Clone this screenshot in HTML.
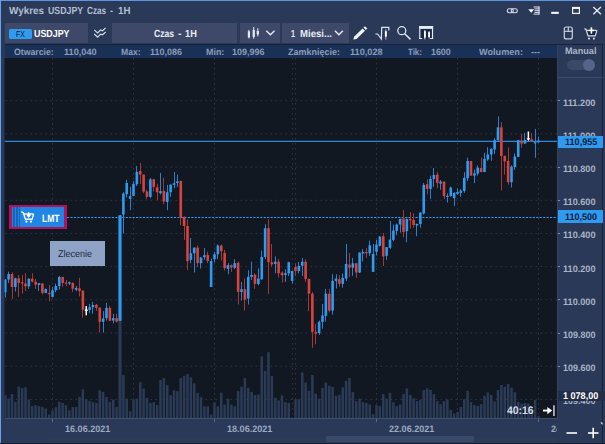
<!DOCTYPE html>
<html><head><meta charset="utf-8">
<style>
*{margin:0;padding:0;box-sizing:border-box}
html,body{width:605px;height:444px;overflow:hidden;background:#2a3957}
body{position:relative;font-family:"Liberation Sans",sans-serif;text-rendering:geometricPrecision}
.abs{position:absolute}
.t{position:absolute;white-space:nowrap;line-height:1}
.box{position:absolute;background:#3e4969}
.info{font-size:9px;font-weight:bold;color:#8c9dba;top:47.5px;letter-spacing:0.1px}
.ax{font-size:9.5px;font-weight:bold;color:#a9b4c6;left:562.3px;letter-spacing:0}
.dt{font-size:9.3px;font-weight:bold;color:#9ba9c1;top:424px}
</style></head><body>
<!-- window frame -->
<div class="abs" style="left:0;top:0;width:605px;height:1.4px;background:#5e95e0"></div>
<div class="abs" style="left:0;top:0;width:1.25px;height:444px;background:#6aa2ec"></div>
<!-- title -->
<!-- toolbar boxes -->
<div class="box" style="left:5px;top:23.2px;width:83px;height:19.6px"></div>
<div class="box" style="left:112px;top:23.2px;width:125px;height:19.6px"></div>
<div class="box" style="left:239.6px;top:23.2px;width:40.6px;height:19.6px"></div>
<div class="box" style="left:282.4px;top:23.2px;width:66.6px;height:19.6px"></div>
<div class="abs" style="left:8.5px;top:28.5px;width:23px;height:10.5px;background:#2f9bf0;border-radius:1.5px"></div>
<!-- info row -->
<div class="abs" style="left:4.5px;top:44.5px;width:552.5px;height:13.5px;background:#1a3157"></div>
<svg width="605" height="444" viewBox="0 0 605 444" style="position:absolute;left:0;top:0">
<defs><clipPath id="cc"><rect x="4.5" y="58" width="552.5" height="360.3"/></clipPath></defs>
<rect x="4.5" y="58" width="552.5" height="360.3" fill="#121822"/>
<g clip-path="url(#cc)">
<line x1="4.5" x2="557" y1="100.70" y2="100.70" stroke="#2f3743" stroke-width="1" stroke-dasharray="1.6 3.4" stroke-dashoffset="-1"/>
<line x1="4.5" x2="557" y1="133.89" y2="133.89" stroke="#2f3743" stroke-width="1" stroke-dasharray="1.6 3.4" stroke-dashoffset="-1"/>
<line x1="4.5" x2="557" y1="167.08" y2="167.08" stroke="#2f3743" stroke-width="1" stroke-dasharray="1.6 3.4" stroke-dashoffset="-1"/>
<line x1="4.5" x2="557" y1="200.27" y2="200.27" stroke="#2f3743" stroke-width="1" stroke-dasharray="1.6 3.4" stroke-dashoffset="-1"/>
<line x1="4.5" x2="557" y1="233.46" y2="233.46" stroke="#2f3743" stroke-width="1" stroke-dasharray="1.6 3.4" stroke-dashoffset="-1"/>
<line x1="4.5" x2="557" y1="266.65" y2="266.65" stroke="#2f3743" stroke-width="1" stroke-dasharray="1.6 3.4" stroke-dashoffset="-1"/>
<line x1="4.5" x2="557" y1="299.84" y2="299.84" stroke="#2f3743" stroke-width="1" stroke-dasharray="1.6 3.4" stroke-dashoffset="-1"/>
<line x1="4.5" x2="557" y1="333.03" y2="333.03" stroke="#2f3743" stroke-width="1" stroke-dasharray="1.6 3.4" stroke-dashoffset="-1"/>
<line x1="4.5" x2="557" y1="366.22" y2="366.22" stroke="#2f3743" stroke-width="1" stroke-dasharray="1.6 3.4" stroke-dashoffset="-1"/>
<line x1="4.5" x2="557" y1="399.41" y2="399.41" stroke="#2f3743" stroke-width="1" stroke-dasharray="1.6 3.4" stroke-dashoffset="-1"/>
<line x1="52.5" x2="52.5" y1="58" y2="418.3" stroke="#2f3743" stroke-width="1" stroke-dasharray="1.6 3.4"/>
<line x1="133.5" x2="133.5" y1="58" y2="418.3" stroke="#2f3743" stroke-width="1" stroke-dasharray="1.6 3.4"/>
<line x1="214.5" x2="214.5" y1="58" y2="418.3" stroke="#2f3743" stroke-width="1" stroke-dasharray="1.6 3.4"/>
<line x1="292.6" x2="292.6" y1="58" y2="418.3" stroke="#2f3743" stroke-width="1" stroke-dasharray="1.6 3.4"/>
<line x1="295.6" x2="295.6" y1="58" y2="418.3" stroke="#2f3743" stroke-width="1" stroke-dasharray="1.6 3.4"/>
<line x1="376.5" x2="376.5" y1="58" y2="418.3" stroke="#2f3743" stroke-width="1" stroke-dasharray="1.6 3.4"/>
<line x1="457.5" x2="457.5" y1="58" y2="418.3" stroke="#2f3743" stroke-width="1" stroke-dasharray="1.6 3.4"/>
<line x1="538.5" x2="538.5" y1="58" y2="418.3" stroke="#2f3743" stroke-width="1" stroke-dasharray="1.6 3.4"/>
<rect x="4.00" y="395.18" width="2.5" height="23.12" fill="#2b3b57"/>
<rect x="7.38" y="398.45" width="2.5" height="19.85" fill="#2b3b57"/>
<rect x="10.75" y="393.99" width="2.5" height="24.31" fill="#2b3b57"/>
<rect x="14.12" y="401.88" width="2.5" height="16.43" fill="#2b3b57"/>
<rect x="17.50" y="386.55" width="2.5" height="31.75" fill="#2b3b57"/>
<rect x="20.88" y="388.04" width="2.5" height="30.26" fill="#2b3b57"/>
<rect x="24.25" y="387.29" width="2.5" height="31.01" fill="#2b3b57"/>
<rect x="27.62" y="399.35" width="2.5" height="18.95" fill="#2b3b57"/>
<rect x="31.00" y="406.04" width="2.5" height="12.26" fill="#2b3b57"/>
<rect x="34.38" y="405.15" width="2.5" height="13.15" fill="#2b3b57"/>
<rect x="37.75" y="406.04" width="2.5" height="12.26" fill="#2b3b57"/>
<rect x="41.12" y="407.08" width="2.5" height="11.22" fill="#2b3b57"/>
<rect x="44.50" y="408.57" width="2.5" height="9.73" fill="#2b3b57"/>
<rect x="47.88" y="414.52" width="2.5" height="3.78" fill="#2b3b57"/>
<rect x="51.25" y="410.36" width="2.5" height="7.94" fill="#2b3b57"/>
<rect x="54.62" y="407.08" width="2.5" height="11.22" fill="#2b3b57"/>
<rect x="58.00" y="401.88" width="2.5" height="16.43" fill="#2b3b57"/>
<rect x="61.38" y="402.92" width="2.5" height="15.38" fill="#2b3b57"/>
<rect x="64.75" y="405.30" width="2.5" height="13.00" fill="#2b3b57"/>
<rect x="68.12" y="410.36" width="2.5" height="7.94" fill="#2b3b57"/>
<rect x="71.50" y="407.08" width="2.5" height="11.22" fill="#2b3b57"/>
<rect x="74.88" y="407.08" width="2.5" height="11.22" fill="#2b3b57"/>
<rect x="78.25" y="396.96" width="2.5" height="21.34" fill="#2b3b57"/>
<rect x="81.62" y="389.23" width="2.5" height="29.07" fill="#2b3b57"/>
<rect x="85.00" y="399.35" width="2.5" height="18.95" fill="#2b3b57"/>
<rect x="88.38" y="401.13" width="2.5" height="17.17" fill="#2b3b57"/>
<rect x="91.75" y="402.17" width="2.5" height="16.13" fill="#2b3b57"/>
<rect x="95.12" y="402.92" width="2.5" height="15.38" fill="#2b3b57"/>
<rect x="98.50" y="390.27" width="2.5" height="28.03" fill="#2b3b57"/>
<rect x="101.88" y="391.90" width="2.5" height="26.40" fill="#2b3b57"/>
<rect x="105.25" y="396.96" width="2.5" height="21.34" fill="#2b3b57"/>
<rect x="108.62" y="401.88" width="2.5" height="16.43" fill="#2b3b57"/>
<rect x="112.00" y="399.64" width="2.5" height="18.66" fill="#2b3b57"/>
<rect x="115.38" y="407.08" width="2.5" height="11.22" fill="#2b3b57"/>
<rect x="118.50" y="321.07" width="3.0" height="97.23" fill="#2b3b57"/>
<rect x="122.12" y="375.09" width="2.5" height="43.21" fill="#2b3b57"/>
<rect x="125.50" y="398.60" width="2.5" height="19.70" fill="#2b3b57"/>
<rect x="128.88" y="411.25" width="2.5" height="7.05" fill="#2b3b57"/>
<rect x="132.25" y="399.35" width="2.5" height="18.95" fill="#2b3b57"/>
<rect x="135.62" y="398.45" width="2.5" height="19.85" fill="#2b3b57"/>
<rect x="139.00" y="382.23" width="2.5" height="36.07" fill="#2b3b57"/>
<rect x="142.38" y="388.48" width="2.5" height="29.82" fill="#2b3b57"/>
<rect x="145.75" y="397.86" width="2.5" height="20.44" fill="#2b3b57"/>
<rect x="149.12" y="402.92" width="2.5" height="15.38" fill="#2b3b57"/>
<rect x="152.50" y="402.17" width="2.5" height="16.13" fill="#2b3b57"/>
<rect x="155.88" y="405.15" width="2.5" height="13.15" fill="#2b3b57"/>
<rect x="159.25" y="380.00" width="2.5" height="38.30" fill="#2b3b57"/>
<rect x="162.62" y="378.07" width="2.5" height="40.23" fill="#2b3b57"/>
<rect x="166.00" y="385.21" width="2.5" height="33.09" fill="#2b3b57"/>
<rect x="169.38" y="395.18" width="2.5" height="23.12" fill="#2b3b57"/>
<rect x="172.75" y="390.27" width="2.5" height="28.03" fill="#2b3b57"/>
<rect x="176.12" y="391.16" width="2.5" height="27.14" fill="#2b3b57"/>
<rect x="179.50" y="378.07" width="2.5" height="40.23" fill="#2b3b57"/>
<rect x="182.88" y="375.83" width="2.5" height="42.47" fill="#2b3b57"/>
<rect x="186.25" y="374.05" width="2.5" height="44.25" fill="#2b3b57"/>
<rect x="189.62" y="377.32" width="2.5" height="40.98" fill="#2b3b57"/>
<rect x="193.00" y="383.27" width="2.5" height="35.03" fill="#2b3b57"/>
<rect x="196.38" y="392.95" width="2.5" height="25.35" fill="#2b3b57"/>
<rect x="199.75" y="397.11" width="2.5" height="21.19" fill="#2b3b57"/>
<rect x="203.12" y="406.34" width="2.5" height="11.96" fill="#2b3b57"/>
<rect x="206.50" y="406.34" width="2.5" height="11.96" fill="#2b3b57"/>
<rect x="209.88" y="414.52" width="2.5" height="3.78" fill="#2b3b57"/>
<rect x="213.25" y="402.32" width="2.5" height="15.98" fill="#2b3b57"/>
<rect x="216.62" y="406.34" width="2.5" height="11.96" fill="#2b3b57"/>
<rect x="220.00" y="392.65" width="2.5" height="25.65" fill="#2b3b57"/>
<rect x="223.38" y="404.55" width="2.5" height="13.75" fill="#2b3b57"/>
<rect x="226.75" y="398.60" width="2.5" height="19.70" fill="#2b3b57"/>
<rect x="230.12" y="404.55" width="2.5" height="13.75" fill="#2b3b57"/>
<rect x="233.50" y="406.34" width="2.5" height="11.96" fill="#2b3b57"/>
<rect x="236.88" y="391.16" width="2.5" height="27.14" fill="#2b3b57"/>
<rect x="240.25" y="386.70" width="2.5" height="31.60" fill="#2b3b57"/>
<rect x="243.62" y="378.07" width="2.5" height="40.23" fill="#2b3b57"/>
<rect x="247.00" y="387.74" width="2.5" height="30.56" fill="#2b3b57"/>
<rect x="250.38" y="392.00" width="2.5" height="26.30" fill="#2b3b57"/>
<rect x="253.75" y="395.00" width="2.5" height="23.30" fill="#2b3b57"/>
<rect x="257.12" y="394.50" width="2.5" height="23.80" fill="#2b3b57"/>
<rect x="260.50" y="356.33" width="2.5" height="61.97" fill="#2b3b57"/>
<rect x="263.88" y="370.83" width="2.5" height="47.47" fill="#2b3b57"/>
<rect x="267.25" y="352.17" width="2.5" height="66.13" fill="#2b3b57"/>
<rect x="270.62" y="375.83" width="2.5" height="42.47" fill="#2b3b57"/>
<rect x="274.00" y="397.83" width="2.5" height="20.47" fill="#2b3b57"/>
<rect x="277.38" y="400.50" width="2.5" height="17.80" fill="#2b3b57"/>
<rect x="280.75" y="395.33" width="2.5" height="22.97" fill="#2b3b57"/>
<rect x="284.12" y="402.17" width="2.5" height="16.13" fill="#2b3b57"/>
<rect x="287.50" y="402.83" width="2.5" height="15.47" fill="#2b3b57"/>
<rect x="290.88" y="417.67" width="2.5" height="0.63" fill="#2b3b57"/>
<rect x="294.25" y="399.17" width="2.5" height="19.13" fill="#2b3b57"/>
<rect x="297.62" y="399.17" width="2.5" height="19.13" fill="#2b3b57"/>
<rect x="301.00" y="372.50" width="2.5" height="45.80" fill="#2b3b57"/>
<rect x="304.38" y="382.50" width="2.5" height="35.80" fill="#2b3b57"/>
<rect x="307.75" y="390.83" width="2.5" height="27.47" fill="#2b3b57"/>
<rect x="311.12" y="375.00" width="2.5" height="43.30" fill="#2b3b57"/>
<rect x="314.50" y="393.67" width="2.5" height="24.63" fill="#2b3b57"/>
<rect x="317.88" y="398.67" width="2.5" height="19.63" fill="#2b3b57"/>
<rect x="321.25" y="387.83" width="2.5" height="30.47" fill="#2b3b57"/>
<rect x="324.62" y="382.50" width="2.5" height="35.80" fill="#2b3b57"/>
<rect x="328.00" y="385.83" width="2.5" height="32.47" fill="#2b3b57"/>
<rect x="331.38" y="387.00" width="2.5" height="31.30" fill="#2b3b57"/>
<rect x="334.75" y="395.83" width="2.5" height="22.47" fill="#2b3b57"/>
<rect x="338.12" y="395.00" width="2.5" height="23.30" fill="#2b3b57"/>
<rect x="341.50" y="387.50" width="2.5" height="30.80" fill="#2b3b57"/>
<rect x="344.88" y="380.83" width="2.5" height="37.47" fill="#2b3b57"/>
<rect x="348.25" y="378.00" width="2.5" height="40.30" fill="#2b3b57"/>
<rect x="351.62" y="392.00" width="2.5" height="26.30" fill="#2b3b57"/>
<rect x="355.00" y="401.17" width="2.5" height="17.13" fill="#2b3b57"/>
<rect x="358.38" y="398.67" width="2.5" height="19.63" fill="#2b3b57"/>
<rect x="361.75" y="402.17" width="2.5" height="16.13" fill="#2b3b57"/>
<rect x="365.12" y="403.00" width="2.5" height="15.30" fill="#2b3b57"/>
<rect x="368.50" y="404.50" width="2.5" height="13.80" fill="#2b3b57"/>
<rect x="371.88" y="414.17" width="2.5" height="4.13" fill="#2b3b57"/>
<rect x="375.25" y="405.00" width="2.5" height="13.30" fill="#2b3b57"/>
<rect x="378.62" y="406.17" width="2.5" height="12.13" fill="#2b3b57"/>
<rect x="382.00" y="394.17" width="2.5" height="24.13" fill="#2b3b57"/>
<rect x="385.38" y="398.67" width="2.5" height="19.63" fill="#2b3b57"/>
<rect x="388.75" y="392.83" width="2.5" height="25.47" fill="#2b3b57"/>
<rect x="392.12" y="402.17" width="2.5" height="16.13" fill="#2b3b57"/>
<rect x="395.50" y="406.17" width="2.5" height="12.13" fill="#2b3b57"/>
<rect x="398.88" y="404.50" width="2.5" height="13.80" fill="#2b3b57"/>
<rect x="402.25" y="394.17" width="2.5" height="24.13" fill="#2b3b57"/>
<rect x="405.62" y="388.33" width="2.5" height="29.97" fill="#2b3b57"/>
<rect x="409.00" y="395.00" width="2.5" height="23.30" fill="#2b3b57"/>
<rect x="412.38" y="398.33" width="2.5" height="19.97" fill="#2b3b57"/>
<rect x="415.75" y="401.17" width="2.5" height="17.13" fill="#2b3b57"/>
<rect x="419.12" y="400.00" width="2.5" height="18.30" fill="#2b3b57"/>
<rect x="422.50" y="390.00" width="2.5" height="28.30" fill="#2b3b57"/>
<rect x="425.88" y="388.33" width="2.5" height="29.97" fill="#2b3b57"/>
<rect x="429.25" y="390.00" width="2.5" height="28.30" fill="#2b3b57"/>
<rect x="432.62" y="394.17" width="2.5" height="24.13" fill="#2b3b57"/>
<rect x="436.00" y="401.17" width="2.5" height="17.13" fill="#2b3b57"/>
<rect x="439.38" y="404.17" width="2.5" height="14.13" fill="#2b3b57"/>
<rect x="442.75" y="401.17" width="2.5" height="17.13" fill="#2b3b57"/>
<rect x="446.12" y="399.50" width="2.5" height="18.80" fill="#2b3b57"/>
<rect x="449.50" y="410.00" width="2.5" height="8.30" fill="#2b3b57"/>
<rect x="452.88" y="413.67" width="2.5" height="4.63" fill="#2b3b57"/>
<rect x="456.25" y="412.00" width="2.5" height="6.30" fill="#2b3b57"/>
<rect x="459.62" y="407.00" width="2.5" height="11.30" fill="#2b3b57"/>
<rect x="463.00" y="399.17" width="2.5" height="19.13" fill="#2b3b57"/>
<rect x="466.38" y="390.83" width="2.5" height="27.47" fill="#2b3b57"/>
<rect x="469.75" y="402.00" width="2.5" height="16.30" fill="#2b3b57"/>
<rect x="473.12" y="405.00" width="2.5" height="13.30" fill="#2b3b57"/>
<rect x="476.50" y="405.83" width="2.5" height="12.47" fill="#2b3b57"/>
<rect x="479.88" y="404.17" width="2.5" height="14.13" fill="#2b3b57"/>
<rect x="483.25" y="395.83" width="2.5" height="22.47" fill="#2b3b57"/>
<rect x="486.62" y="392.50" width="2.5" height="25.80" fill="#2b3b57"/>
<rect x="490.00" y="394.93" width="2.5" height="23.37" fill="#2b3b57"/>
<rect x="493.38" y="401.58" width="2.5" height="16.72" fill="#2b3b57"/>
<rect x="496.75" y="389.88" width="2.5" height="28.42" fill="#2b3b57"/>
<rect x="500.12" y="384.97" width="2.5" height="33.33" fill="#2b3b57"/>
<rect x="503.50" y="386.69" width="2.5" height="31.61" fill="#2b3b57"/>
<rect x="506.88" y="384.04" width="2.5" height="34.26" fill="#2b3b57"/>
<rect x="510.25" y="387.62" width="2.5" height="30.68" fill="#2b3b57"/>
<rect x="513.62" y="392.28" width="2.5" height="26.02" fill="#2b3b57"/>
<rect x="517.00" y="401.98" width="2.5" height="16.32" fill="#2b3b57"/>
<rect x="520.38" y="403.57" width="2.5" height="14.73" fill="#2b3b57"/>
<rect x="523.75" y="402.91" width="2.5" height="15.39" fill="#2b3b57"/>
<rect x="527.12" y="403.57" width="2.5" height="14.73" fill="#2b3b57"/>
<rect x="530.50" y="407.96" width="2.5" height="10.34" fill="#2b3b57"/>
<rect x="533.88" y="399.98" width="2.5" height="18.32" fill="#2b3b57"/>
<rect x="537.25" y="416.20" width="2.5" height="2.10" fill="#2b3b57"/>
<line x1="4.5" x2="557" y1="141.4" y2="141.4" stroke="#2f86d8" stroke-width="1.3"/>
<line x1="67" x2="557" y1="217.4" y2="217.4" stroke="#2f9bf0" stroke-width="1.05" stroke-dasharray="2.2 1.25"/>
<line x1="5.50" x2="5.50" y1="278.95" y2="297.56" stroke="#2980cc" stroke-width="1"/>
<rect x="3.95" y="279.62" width="2.6" height="12.62" fill="#2f9bf0"/>
<line x1="8.50" x2="8.50" y1="271.64" y2="282.94" stroke="#2980cc" stroke-width="1"/>
<rect x="7.33" y="274.04" width="2.6" height="5.58" fill="#2f9bf0"/>
<line x1="12.50" x2="12.50" y1="272.31" y2="298.89" stroke="#a63732" stroke-width="1"/>
<rect x="10.70" y="274.04" width="2.6" height="12.89" fill="#d8443c"/>
<line x1="15.50" x2="15.50" y1="277.62" y2="291.58" stroke="#2980cc" stroke-width="1"/>
<rect x="14.07" y="278.29" width="2.6" height="8.64" fill="#2f9bf0"/>
<line x1="18.50" x2="18.50" y1="274.97" y2="296.89" stroke="#a63732" stroke-width="1"/>
<rect x="17.45" y="278.29" width="2.6" height="4.65" fill="#d8443c"/>
<line x1="22.50" x2="22.50" y1="274.97" y2="293.57" stroke="#a63732" stroke-width="1"/>
<rect x="20.82" y="282.28" width="2.6" height="1.33" fill="#d8443c"/>
<line x1="25.50" x2="25.50" y1="273.24" y2="290.91" stroke="#a63732" stroke-width="1"/>
<rect x="24.20" y="283.60" width="2.6" height="2.66" fill="#d8443c"/>
<line x1="28.50" x2="28.50" y1="278.29" y2="288.92" stroke="#2980cc" stroke-width="1"/>
<rect x="27.57" y="278.69" width="2.6" height="7.57" fill="#2f9bf0"/>
<line x1="32.50" x2="32.50" y1="273.24" y2="282.28" stroke="#a63732" stroke-width="1"/>
<rect x="30.95" y="278.69" width="2.6" height="2.92" fill="#d8443c"/>
<line x1="35.50" x2="35.50" y1="278.95" y2="288.92" stroke="#a63732" stroke-width="1"/>
<rect x="34.33" y="281.61" width="2.6" height="3.06" fill="#d8443c"/>
<line x1="38.50" x2="38.50" y1="282.94" y2="290.91" stroke="#2980cc" stroke-width="1"/>
<rect x="37.70" y="283.21" width="2.6" height="1.73" fill="#2f9bf0"/>
<line x1="42.50" x2="42.50" y1="282.94" y2="294.50" stroke="#a63732" stroke-width="1"/>
<rect x="41.08" y="283.60" width="2.6" height="9.30" fill="#d8443c"/>
<line x1="45.50" x2="45.50" y1="288.65" y2="293.17" stroke="#2980cc" stroke-width="1"/>
<rect x="44.45" y="288.92" width="2.6" height="3.99" fill="#2f9bf0"/>
<line x1="49.50" x2="49.50" y1="284.93" y2="301.15" stroke="#a63732" stroke-width="1"/>
<rect x="47.83" y="292.91" width="2.6" height="1.33" fill="#d8443c"/>
<line x1="52.50" x2="52.50" y1="286.93" y2="297.56" stroke="#2980cc" stroke-width="1"/>
<rect x="51.20" y="290.25" width="2.6" height="6.64" fill="#2f9bf0"/>
<line x1="55.50" x2="55.50" y1="283.60" y2="292.24" stroke="#2980cc" stroke-width="1"/>
<rect x="54.58" y="286.00" width="2.6" height="4.25" fill="#2f9bf0"/>
<line x1="59.50" x2="59.50" y1="275.90" y2="289.58" stroke="#2980cc" stroke-width="1"/>
<rect x="57.95" y="276.96" width="2.6" height="9.04" fill="#2f9bf0"/>
<line x1="62.50" x2="62.50" y1="276.69" y2="286.93" stroke="#a63732" stroke-width="1"/>
<rect x="61.33" y="276.96" width="2.6" height="5.98" fill="#d8443c"/>
<line x1="66.50" x2="66.50" y1="279.88" y2="286.26" stroke="#a63732" stroke-width="1"/>
<rect x="64.70" y="282.54" width="2.6" height="1.20" fill="#d8443c"/>
<line x1="69.50" x2="69.50" y1="281.61" y2="285.20" stroke="#2980cc" stroke-width="1"/>
<rect x="68.08" y="282.28" width="2.6" height="1.33" fill="#2f9bf0"/>
<line x1="72.50" x2="72.50" y1="282.28" y2="291.98" stroke="#a63732" stroke-width="1"/>
<rect x="71.45" y="282.94" width="2.6" height="5.71" fill="#d8443c"/>
<line x1="76.50" x2="76.50" y1="285.95" y2="291.26" stroke="#2980cc" stroke-width="1"/>
<rect x="74.83" y="287.94" width="2.6" height="1.73" fill="#2f9bf0"/>
<line x1="79.50" x2="79.50" y1="277.71" y2="296.31" stroke="#a63732" stroke-width="1"/>
<rect x="78.20" y="288.34" width="2.6" height="2.66" fill="#d8443c"/>
<line x1="82.50" x2="82.50" y1="290.60" y2="317.57" stroke="#a63732" stroke-width="1"/>
<rect x="81.58" y="290.60" width="2.6" height="19.00" fill="#d8443c"/>
<rect x="85.50" y="306.1" width="1.5" height="9.2" fill="#fff"/>
<rect x="84.75" y="309.5" width="3" height="1.4" fill="#fff"/>
<line x1="89.50" x2="89.50" y1="303.89" y2="313.19" stroke="#2980cc" stroke-width="1"/>
<rect x="88.33" y="307.21" width="2.6" height="2.66" fill="#2f9bf0"/>
<line x1="92.50" x2="92.50" y1="301.89" y2="313.85" stroke="#2980cc" stroke-width="1"/>
<rect x="91.70" y="304.95" width="2.6" height="2.26" fill="#2f9bf0"/>
<line x1="96.50" x2="96.50" y1="303.89" y2="310.93" stroke="#a63732" stroke-width="1"/>
<rect x="95.08" y="304.82" width="2.6" height="3.06" fill="#d8443c"/>
<line x1="99.50" x2="99.50" y1="307.61" y2="332.59" stroke="#a63732" stroke-width="1"/>
<rect x="98.45" y="307.61" width="2.6" height="14.22" fill="#d8443c"/>
<line x1="103.50" x2="103.50" y1="311.20" y2="332.59" stroke="#2980cc" stroke-width="1"/>
<rect x="101.83" y="318.50" width="2.6" height="3.32" fill="#2f9bf0"/>
<line x1="106.50" x2="106.50" y1="302.96" y2="320.50" stroke="#2980cc" stroke-width="1"/>
<rect x="105.20" y="307.87" width="2.6" height="10.23" fill="#2f9bf0"/>
<line x1="109.50" x2="109.50" y1="305.88" y2="321.16" stroke="#a63732" stroke-width="1"/>
<rect x="108.58" y="307.87" width="2.6" height="12.89" fill="#d8443c"/>
<line x1="113.50" x2="113.50" y1="313.85" y2="323.42" stroke="#2980cc" stroke-width="1"/>
<rect x="111.95" y="318.11" width="2.6" height="2.39" fill="#2f9bf0"/>
<line x1="116.50" x2="116.50" y1="313.85" y2="322.49" stroke="#a63732" stroke-width="1"/>
<rect x="115.33" y="318.11" width="2.6" height="3.46" fill="#d8443c"/>
<line x1="120.50" x2="120.50" y1="214.83" y2="320.88" stroke="#2980cc" stroke-width="1"/>
<rect x="118.40" y="215.23" width="3.2" height="105.65" fill="#2f9bf0"/>
<line x1="123.50" x2="123.50" y1="192.24" y2="233.57" stroke="#2980cc" stroke-width="1"/>
<rect x="122.08" y="193.57" width="2.6" height="21.00" fill="#2f9bf0"/>
<line x1="126.50" x2="126.50" y1="179.88" y2="197.56" stroke="#2980cc" stroke-width="1"/>
<rect x="125.45" y="182.94" width="2.6" height="11.30" fill="#2f9bf0"/>
<line x1="130.50" x2="130.50" y1="186.93" y2="210.18" stroke="#2980cc" stroke-width="1"/>
<rect x="128.82" y="196.23" width="2.6" height="2.66" fill="#2f9bf0"/>
<line x1="133.50" x2="133.50" y1="181.21" y2="196.23" stroke="#2980cc" stroke-width="1"/>
<rect x="132.20" y="183.87" width="2.6" height="11.96" fill="#2f9bf0"/>
<line x1="136.50" x2="136.50" y1="166.06" y2="186.00" stroke="#2980cc" stroke-width="1"/>
<rect x="135.57" y="171.91" width="2.6" height="12.36" fill="#2f9bf0"/>
<line x1="140.50" x2="140.50" y1="162.87" y2="183.87" stroke="#a63732" stroke-width="1"/>
<rect x="138.95" y="170.98" width="2.6" height="3.59" fill="#d8443c"/>
<line x1="143.50" x2="143.50" y1="174.57" y2="193.17" stroke="#a63732" stroke-width="1"/>
<rect x="142.32" y="174.57" width="2.6" height="17.01" fill="#d8443c"/>
<line x1="146.50" x2="146.50" y1="189.58" y2="199.29" stroke="#a63732" stroke-width="1"/>
<rect x="145.70" y="191.31" width="2.6" height="5.58" fill="#d8443c"/>
<line x1="150.50" x2="150.50" y1="178.02" y2="198.22" stroke="#2980cc" stroke-width="1"/>
<rect x="149.07" y="179.35" width="2.6" height="17.54" fill="#2f9bf0"/>
<line x1="153.50" x2="153.50" y1="178.95" y2="191.58" stroke="#a63732" stroke-width="1"/>
<rect x="152.45" y="179.35" width="2.6" height="7.57" fill="#d8443c"/>
<line x1="157.50" x2="157.50" y1="183.87" y2="200.22" stroke="#a63732" stroke-width="1"/>
<rect x="155.82" y="187.33" width="2.6" height="4.92" fill="#d8443c"/>
<line x1="160.50" x2="160.50" y1="172.97" y2="194.50" stroke="#2980cc" stroke-width="1"/>
<rect x="159.20" y="191.18" width="2.6" height="1.99" fill="#2f9bf0"/>
<line x1="163.50" x2="163.50" y1="177.89" y2="204.20" stroke="#a63732" stroke-width="1"/>
<rect x="162.57" y="190.91" width="2.6" height="10.63" fill="#d8443c"/>
<line x1="167.50" x2="167.50" y1="184.93" y2="210.18" stroke="#2980cc" stroke-width="1"/>
<rect x="165.95" y="192.24" width="2.6" height="9.70" fill="#2f9bf0"/>
<line x1="170.50" x2="170.50" y1="184.27" y2="196.89" stroke="#2980cc" stroke-width="1"/>
<rect x="169.32" y="184.67" width="2.6" height="7.57" fill="#2f9bf0"/>
<line x1="174.50" x2="174.50" y1="171.91" y2="188.26" stroke="#2980cc" stroke-width="1"/>
<rect x="172.70" y="183.34" width="2.6" height="1.59" fill="#2f9bf0"/>
<line x1="177.50" x2="177.50" y1="174.57" y2="186.93" stroke="#2980cc" stroke-width="1"/>
<rect x="176.07" y="181.35" width="2.6" height="1.59" fill="#2f9bf0"/>
<line x1="180.50" x2="180.50" y1="180.93" y2="225.32" stroke="#a63732" stroke-width="1"/>
<rect x="179.45" y="180.93" width="2.6" height="36.28" fill="#d8443c"/>
<line x1="184.50" x2="184.50" y1="216.41" y2="239.93" stroke="#a63732" stroke-width="1"/>
<rect x="182.82" y="216.81" width="2.6" height="9.17" fill="#d8443c"/>
<line x1="187.50" x2="187.50" y1="219.47" y2="270.23" stroke="#a63732" stroke-width="1"/>
<rect x="186.20" y="225.98" width="2.6" height="35.22" fill="#d8443c"/>
<line x1="190.50" x2="190.50" y1="237.94" y2="263.19" stroke="#2980cc" stroke-width="1"/>
<rect x="189.57" y="253.22" width="2.6" height="6.64" fill="#2f9bf0"/>
<line x1="194.50" x2="194.50" y1="247.24" y2="272.49" stroke="#2980cc" stroke-width="1"/>
<rect x="192.95" y="247.64" width="2.6" height="5.58" fill="#2f9bf0"/>
<line x1="197.50" x2="197.50" y1="245.51" y2="267.18" stroke="#a63732" stroke-width="1"/>
<rect x="196.32" y="247.64" width="2.6" height="15.55" fill="#d8443c"/>
<line x1="200.50" x2="200.50" y1="256.94" y2="268.50" stroke="#2980cc" stroke-width="1"/>
<rect x="199.70" y="257.61" width="2.6" height="5.58" fill="#2f9bf0"/>
<line x1="204.50" x2="204.50" y1="248.17" y2="259.87" stroke="#2980cc" stroke-width="1"/>
<rect x="203.07" y="255.22" width="2.6" height="1.99" fill="#2f9bf0"/>
<line x1="207.50" x2="207.50" y1="251.63" y2="263.19" stroke="#a63732" stroke-width="1"/>
<rect x="206.45" y="254.82" width="2.6" height="6.11" fill="#d8443c"/>
<line x1="211.50" x2="211.50" y1="258.54" y2="286.98" stroke="#2980cc" stroke-width="1"/>
<rect x="209.82" y="260.93" width="2.6" height="26.05" fill="#2f9bf0"/>
<line x1="214.50" x2="214.50" y1="251.89" y2="262.52" stroke="#2980cc" stroke-width="1"/>
<rect x="213.20" y="254.29" width="2.6" height="4.92" fill="#2f9bf0"/>
<line x1="217.50" x2="217.50" y1="244.58" y2="259.20" stroke="#2980cc" stroke-width="1"/>
<rect x="216.57" y="245.51" width="2.6" height="8.77" fill="#2f9bf0"/>
<line x1="221.50" x2="221.50" y1="244.58" y2="260.53" stroke="#a63732" stroke-width="1"/>
<rect x="219.95" y="245.51" width="2.6" height="5.71" fill="#d8443c"/>
<line x1="224.50" x2="224.50" y1="249.90" y2="270.50" stroke="#a63732" stroke-width="1"/>
<rect x="223.32" y="252.96" width="2.6" height="15.15" fill="#d8443c"/>
<line x1="228.50" x2="228.50" y1="263.19" y2="274.22" stroke="#2980cc" stroke-width="1"/>
<rect x="226.70" y="265.18" width="2.6" height="3.72" fill="#2f9bf0"/>
<line x1="231.50" x2="231.50" y1="264.52" y2="271.83" stroke="#a63732" stroke-width="1"/>
<rect x="230.07" y="265.18" width="2.6" height="2.39" fill="#d8443c"/>
<line x1="234.50" x2="234.50" y1="259.20" y2="269.17" stroke="#2980cc" stroke-width="1"/>
<rect x="233.45" y="263.19" width="2.6" height="4.65" fill="#2f9bf0"/>
<line x1="238.50" x2="238.50" y1="261.46" y2="304.52" stroke="#a63732" stroke-width="1"/>
<rect x="236.82" y="262.79" width="2.6" height="29.10" fill="#d8443c"/>
<line x1="241.50" x2="241.50" y1="281.93" y2="300.53" stroke="#2980cc" stroke-width="1"/>
<rect x="240.20" y="289.24" width="2.6" height="2.66" fill="#2f9bf0"/>
<line x1="244.50" x2="244.50" y1="278.60" y2="310.50" stroke="#a63732" stroke-width="1"/>
<rect x="243.57" y="289.24" width="2.6" height="10.37" fill="#d8443c"/>
<line x1="248.50" x2="248.50" y1="270.23" y2="304.52" stroke="#2980cc" stroke-width="1"/>
<rect x="246.95" y="276.88" width="2.6" height="21.66" fill="#2f9bf0"/>
<line x1="251.50" x2="251.50" y1="261.72" y2="279.93" stroke="#2980cc" stroke-width="1"/>
<rect x="250.32" y="275.01" width="2.6" height="1.86" fill="#2f9bf0"/>
<line x1="254.50" x2="254.50" y1="273.28" y2="288.83" stroke="#a63732" stroke-width="1"/>
<rect x="253.70" y="274.61" width="2.6" height="9.30" fill="#d8443c"/>
<line x1="258.50" x2="258.50" y1="268.37" y2="285.24" stroke="#2980cc" stroke-width="1"/>
<rect x="257.07" y="278.60" width="2.6" height="5.32" fill="#2f9bf0"/>
<line x1="261.50" x2="261.50" y1="250.56" y2="279.93" stroke="#2980cc" stroke-width="1"/>
<rect x="260.45" y="256.94" width="2.6" height="22.33" fill="#2f9bf0"/>
<line x1="265.50" x2="265.50" y1="224.25" y2="259.06" stroke="#2980cc" stroke-width="1"/>
<rect x="263.82" y="228.23" width="2.6" height="28.70" fill="#2f9bf0"/>
<line x1="268.50" x2="268.50" y1="219.33" y2="293.88" stroke="#a63732" stroke-width="1"/>
<rect x="267.20" y="228.23" width="2.6" height="34.02" fill="#d8443c"/>
<line x1="271.50" x2="271.50" y1="244.05" y2="266.77" stroke="#a63732" stroke-width="1"/>
<rect x="270.57" y="262.25" width="2.6" height="2.13" fill="#d8443c"/>
<line x1="275.50" x2="275.50" y1="256.41" y2="273.28" stroke="#2980cc" stroke-width="1"/>
<rect x="273.95" y="261.72" width="2.6" height="2.26" fill="#2f9bf0"/>
<line x1="278.50" x2="278.50" y1="259.06" y2="277.67" stroke="#a63732" stroke-width="1"/>
<rect x="277.32" y="261.72" width="2.6" height="11.56" fill="#d8443c"/>
<line x1="282.50" x2="282.50" y1="271.29" y2="282.58" stroke="#a63732" stroke-width="1"/>
<rect x="280.70" y="272.62" width="2.6" height="2.66" fill="#d8443c"/>
<line x1="285.50" x2="285.50" y1="269.30" y2="281.92" stroke="#2980cc" stroke-width="1"/>
<rect x="284.07" y="273.28" width="2.6" height="1.73" fill="#2f9bf0"/>
<line x1="288.50" x2="288.50" y1="261.72" y2="275.94" stroke="#2980cc" stroke-width="1"/>
<rect x="287.45" y="262.25" width="2.6" height="11.03" fill="#2f9bf0"/>
<line x1="292.50" x2="292.50" y1="270.62" y2="283.51" stroke="#2980cc" stroke-width="1"/>
<rect x="290.82" y="271.02" width="2.6" height="9.83" fill="#2f9bf0"/>
<line x1="295.50" x2="295.50" y1="263.32" y2="275.94" stroke="#a63732" stroke-width="1"/>
<rect x="294.20" y="267.04" width="2.6" height="3.99" fill="#d8443c"/>
<line x1="298.50" x2="298.50" y1="261.99" y2="273.28" stroke="#2980cc" stroke-width="1"/>
<rect x="297.57" y="265.97" width="2.6" height="5.05" fill="#2f9bf0"/>
<line x1="302.50" x2="302.50" y1="258.00" y2="275.94" stroke="#2980cc" stroke-width="1"/>
<rect x="300.95" y="261.72" width="2.6" height="3.99" fill="#2f9bf0"/>
<line x1="305.50" x2="305.50" y1="259.33" y2="281.92" stroke="#a63732" stroke-width="1"/>
<rect x="304.32" y="261.72" width="2.6" height="17.28" fill="#d8443c"/>
<line x1="308.50" x2="308.50" y1="278.60" y2="311.16" stroke="#a63732" stroke-width="1"/>
<rect x="307.70" y="279.00" width="2.6" height="14.62" fill="#d8443c"/>
<line x1="312.50" x2="312.50" y1="291.99" y2="347.81" stroke="#a63732" stroke-width="1"/>
<rect x="311.07" y="293.72" width="2.6" height="38.14" fill="#d8443c"/>
<line x1="315.50" x2="315.50" y1="323.89" y2="344.22" stroke="#a63732" stroke-width="1"/>
<rect x="314.45" y="331.86" width="2.6" height="1.73" fill="#d8443c"/>
<line x1="319.50" x2="319.50" y1="320.56" y2="334.92" stroke="#2980cc" stroke-width="1"/>
<rect x="317.82" y="321.89" width="2.6" height="11.30" fill="#2f9bf0"/>
<line x1="322.50" x2="322.50" y1="303.95" y2="328.80" stroke="#2980cc" stroke-width="1"/>
<rect x="321.20" y="315.51" width="2.6" height="6.38" fill="#2f9bf0"/>
<line x1="325.50" x2="325.50" y1="288.90" y2="321.59" stroke="#2980cc" stroke-width="1"/>
<rect x="324.57" y="293.69" width="2.6" height="22.19" fill="#2f9bf0"/>
<line x1="329.50" x2="329.50" y1="288.90" y2="312.29" stroke="#a63732" stroke-width="1"/>
<rect x="327.95" y="293.69" width="2.6" height="16.88" fill="#d8443c"/>
<line x1="332.50" x2="332.50" y1="274.29" y2="314.55" stroke="#2980cc" stroke-width="1"/>
<rect x="331.32" y="280.93" width="2.6" height="29.63" fill="#2f9bf0"/>
<line x1="336.50" x2="336.50" y1="274.29" y2="288.50" stroke="#2980cc" stroke-width="1"/>
<rect x="334.70" y="278.54" width="2.6" height="2.39" fill="#2f9bf0"/>
<line x1="339.50" x2="339.50" y1="275.22" y2="286.78" stroke="#a63732" stroke-width="1"/>
<rect x="338.07" y="279.20" width="2.6" height="4.65" fill="#d8443c"/>
<line x1="342.50" x2="342.50" y1="273.49" y2="287.57" stroke="#2980cc" stroke-width="1"/>
<rect x="341.45" y="277.87" width="2.6" height="5.98" fill="#2f9bf0"/>
<line x1="346.50" x2="346.50" y1="243.99" y2="280.93" stroke="#2980cc" stroke-width="1"/>
<rect x="344.82" y="263.92" width="2.6" height="14.62" fill="#2f9bf0"/>
<line x1="349.50" x2="349.50" y1="253.02" y2="276.94" stroke="#a63732" stroke-width="1"/>
<rect x="348.20" y="264.58" width="2.6" height="3.06" fill="#d8443c"/>
<line x1="352.50" x2="352.50" y1="257.94" y2="275.88" stroke="#2980cc" stroke-width="1"/>
<rect x="351.57" y="263.26" width="2.6" height="4.39" fill="#2f9bf0"/>
<line x1="356.50" x2="356.50" y1="262.86" y2="277.87" stroke="#a63732" stroke-width="1"/>
<rect x="354.95" y="263.26" width="2.6" height="9.30" fill="#d8443c"/>
<line x1="359.50" x2="359.50" y1="252.23" y2="272.96" stroke="#2980cc" stroke-width="1"/>
<rect x="358.32" y="252.62" width="2.6" height="19.93" fill="#2f9bf0"/>
<line x1="362.50" x2="362.50" y1="249.04" y2="261.53" stroke="#2980cc" stroke-width="1"/>
<rect x="361.70" y="251.96" width="2.6" height="1.59" fill="#2f9bf0"/>
<line x1="366.50" x2="366.50" y1="247.97" y2="257.94" stroke="#a63732" stroke-width="1"/>
<rect x="365.07" y="251.96" width="2.6" height="1.33" fill="#d8443c"/>
<line x1="369.50" x2="369.50" y1="240.66" y2="255.95" stroke="#2980cc" stroke-width="1"/>
<rect x="368.45" y="245.32" width="2.6" height="7.97" fill="#2f9bf0"/>
<line x1="373.50" x2="373.50" y1="243.99" y2="271.89" stroke="#2980cc" stroke-width="1"/>
<rect x="371.82" y="253.95" width="2.6" height="17.94" fill="#2f9bf0"/>
<line x1="376.50" x2="376.50" y1="239.87" y2="255.55" stroke="#2980cc" stroke-width="1"/>
<rect x="375.20" y="244.52" width="2.6" height="7.31" fill="#2f9bf0"/>
<line x1="379.50" x2="379.50" y1="235.88" y2="246.51" stroke="#2980cc" stroke-width="1"/>
<rect x="378.57" y="236.54" width="2.6" height="9.30" fill="#2f9bf0"/>
<line x1="383.50" x2="383.50" y1="232.96" y2="265.91" stroke="#a63732" stroke-width="1"/>
<rect x="381.95" y="236.15" width="2.6" height="20.33" fill="#d8443c"/>
<line x1="386.50" x2="386.50" y1="247.18" y2="259.93" stroke="#2980cc" stroke-width="1"/>
<rect x="385.32" y="247.18" width="2.6" height="8.64" fill="#2f9bf0"/>
<line x1="390.50" x2="390.50" y1="221.00" y2="248.90" stroke="#2980cc" stroke-width="1"/>
<rect x="388.70" y="239.60" width="2.6" height="8.24" fill="#2f9bf0"/>
<line x1="393.50" x2="393.50" y1="224.58" y2="241.20" stroke="#2980cc" stroke-width="1"/>
<rect x="392.07" y="230.56" width="2.6" height="9.30" fill="#2f9bf0"/>
<line x1="396.50" x2="396.50" y1="223.65" y2="235.22" stroke="#2980cc" stroke-width="1"/>
<rect x="395.45" y="224.58" width="2.6" height="6.25" fill="#2f9bf0"/>
<line x1="400.50" x2="400.50" y1="218.60" y2="232.56" stroke="#2980cc" stroke-width="1"/>
<rect x="398.82" y="218.87" width="2.6" height="5.71" fill="#2f9bf0"/>
<line x1="403.50" x2="403.50" y1="209.97" y2="237.21" stroke="#a63732" stroke-width="1"/>
<rect x="402.20" y="218.60" width="2.6" height="13.29" fill="#d8443c"/>
<line x1="406.50" x2="406.50" y1="218.60" y2="242.26" stroke="#2980cc" stroke-width="1"/>
<rect x="405.57" y="218.87" width="2.6" height="12.36" fill="#2f9bf0"/>
<line x1="410.50" x2="410.50" y1="211.96" y2="228.57" stroke="#a63732" stroke-width="1"/>
<rect x="408.95" y="218.87" width="2.6" height="1.33" fill="#d8443c"/>
<line x1="413.50" x2="413.50" y1="213.29" y2="227.64" stroke="#a63732" stroke-width="1"/>
<rect x="412.32" y="219.93" width="2.6" height="5.05" fill="#d8443c"/>
<line x1="416.50" x2="416.50" y1="223.65" y2="236.15" stroke="#2980cc" stroke-width="1"/>
<rect x="415.70" y="223.92" width="2.6" height="1.59" fill="#2f9bf0"/>
<line x1="420.50" x2="420.50" y1="211.96" y2="227.64" stroke="#2980cc" stroke-width="1"/>
<rect x="419.07" y="212.62" width="2.6" height="11.30" fill="#2f9bf0"/>
<line x1="423.50" x2="423.50" y1="182.91" y2="214.53" stroke="#2980cc" stroke-width="1"/>
<rect x="422.45" y="184.90" width="2.6" height="28.57" fill="#2f9bf0"/>
<line x1="427.50" x2="427.50" y1="179.58" y2="194.20" stroke="#a63732" stroke-width="1"/>
<rect x="425.82" y="184.24" width="2.6" height="4.65" fill="#d8443c"/>
<line x1="430.50" x2="430.50" y1="175.60" y2="198.85" stroke="#2980cc" stroke-width="1"/>
<rect x="429.20" y="178.92" width="2.6" height="9.97" fill="#2f9bf0"/>
<line x1="433.50" x2="433.50" y1="168.02" y2="186.89" stroke="#2980cc" stroke-width="1"/>
<rect x="432.57" y="174.93" width="2.6" height="3.99" fill="#2f9bf0"/>
<line x1="437.50" x2="437.50" y1="172.01" y2="188.22" stroke="#a63732" stroke-width="1"/>
<rect x="435.95" y="174.67" width="2.6" height="8.24" fill="#d8443c"/>
<line x1="440.50" x2="440.50" y1="179.98" y2="189.82" stroke="#2980cc" stroke-width="1"/>
<rect x="439.32" y="181.58" width="2.6" height="1.99" fill="#2f9bf0"/>
<line x1="444.50" x2="444.50" y1="181.58" y2="199.12" stroke="#a63732" stroke-width="1"/>
<rect x="442.70" y="181.58" width="2.6" height="14.62" fill="#d8443c"/>
<line x1="447.50" x2="447.50" y1="193.27" y2="202.57" stroke="#2980cc" stroke-width="1"/>
<rect x="446.07" y="195.80" width="2.6" height="1.20" fill="#2f9bf0"/>
<line x1="450.50" x2="450.50" y1="186.63" y2="196.86" stroke="#2980cc" stroke-width="1"/>
<rect x="449.45" y="187.56" width="2.6" height="8.37" fill="#2f9bf0"/>
<line x1="454.50" x2="454.50" y1="192.21" y2="206.16" stroke="#2980cc" stroke-width="1"/>
<rect x="452.82" y="192.87" width="2.6" height="5.32" fill="#2f9bf0"/>
<line x1="457.50" x2="457.50" y1="188.22" y2="194.87" stroke="#2980cc" stroke-width="1"/>
<rect x="456.20" y="191.94" width="2.6" height="1.86" fill="#2f9bf0"/>
<line x1="460.50" x2="460.50" y1="189.29" y2="196.86" stroke="#2980cc" stroke-width="1"/>
<rect x="459.57" y="190.61" width="2.6" height="2.26" fill="#2f9bf0"/>
<line x1="464.50" x2="464.50" y1="172.28" y2="192.87" stroke="#2980cc" stroke-width="1"/>
<rect x="462.95" y="177.86" width="2.6" height="13.02" fill="#2f9bf0"/>
<line x1="467.50" x2="467.50" y1="157.66" y2="180.91" stroke="#2980cc" stroke-width="1"/>
<rect x="466.32" y="160.98" width="2.6" height="17.28" fill="#2f9bf0"/>
<line x1="470.50" x2="470.50" y1="160.98" y2="175.60" stroke="#a63732" stroke-width="1"/>
<rect x="469.70" y="160.98" width="2.6" height="14.62" fill="#d8443c"/>
<line x1="474.50" x2="474.50" y1="169.62" y2="183.17" stroke="#2980cc" stroke-width="1"/>
<rect x="473.07" y="173.34" width="2.6" height="2.26" fill="#2f9bf0"/>
<line x1="477.50" x2="477.50" y1="165.37" y2="175.60" stroke="#2980cc" stroke-width="1"/>
<rect x="476.45" y="167.62" width="2.6" height="5.98" fill="#2f9bf0"/>
<line x1="481.50" x2="481.50" y1="157.66" y2="172.28" stroke="#a63732" stroke-width="1"/>
<rect x="479.82" y="168.02" width="2.6" height="3.99" fill="#d8443c"/>
<line x1="484.50" x2="484.50" y1="152.84" y2="172.24" stroke="#2980cc" stroke-width="1"/>
<rect x="483.20" y="158.82" width="2.6" height="13.16" fill="#2f9bf0"/>
<line x1="487.50" x2="487.50" y1="147.26" y2="160.81" stroke="#2980cc" stroke-width="1"/>
<rect x="486.57" y="154.44" width="2.6" height="5.05" fill="#2f9bf0"/>
<line x1="491.50" x2="491.50" y1="148.19" y2="160.81" stroke="#2980cc" stroke-width="1"/>
<rect x="489.95" y="148.85" width="2.6" height="5.58" fill="#2f9bf0"/>
<line x1="494.50" x2="494.50" y1="138.22" y2="154.17" stroke="#2980cc" stroke-width="1"/>
<rect x="493.32" y="140.22" width="2.6" height="9.30" fill="#2f9bf0"/>
<line x1="498.50" x2="498.50" y1="116.30" y2="140.88" stroke="#2980cc" stroke-width="1"/>
<rect x="496.70" y="127.33" width="2.6" height="12.89" fill="#2f9bf0"/>
<line x1="501.50" x2="501.50" y1="122.28" y2="190.45" stroke="#a63732" stroke-width="1"/>
<rect x="500.07" y="127.33" width="2.6" height="28.70" fill="#d8443c"/>
<line x1="504.50" x2="504.50" y1="155.50" y2="174.63" stroke="#a63732" stroke-width="1"/>
<rect x="503.45" y="156.03" width="2.6" height="5.32" fill="#d8443c"/>
<line x1="508.50" x2="508.50" y1="147.52" y2="184.73" stroke="#a63732" stroke-width="1"/>
<rect x="506.82" y="160.95" width="2.6" height="21.26" fill="#d8443c"/>
<line x1="511.50" x2="511.50" y1="165.33" y2="187.52" stroke="#2980cc" stroke-width="1"/>
<rect x="510.20" y="166.53" width="2.6" height="15.68" fill="#2f9bf0"/>
<line x1="514.50" x2="514.50" y1="153.50" y2="169.98" stroke="#2980cc" stroke-width="1"/>
<rect x="513.58" y="156.56" width="2.6" height="10.50" fill="#2f9bf0"/>
<line x1="518.50" x2="518.50" y1="139.82" y2="157.09" stroke="#2980cc" stroke-width="1"/>
<rect x="516.95" y="140.22" width="2.6" height="16.61" fill="#2f9bf0"/>
<line x1="521.50" x2="521.50" y1="133.97" y2="147.79" stroke="#a63732" stroke-width="1"/>
<rect x="520.33" y="140.61" width="2.6" height="2.92" fill="#d8443c"/>
<line x1="524.50" x2="524.50" y1="132.91" y2="143.80" stroke="#2980cc" stroke-width="1"/>
<rect x="523.70" y="139.82" width="2.6" height="3.72" fill="#2f9bf0"/>
<rect x="527.62" y="131.5" width="1.5" height="7.6" fill="#fff"/>
<polygon points="526.48,138.2 530.27,138.2 528.38,141" fill="#fff"/>
<line x1="531.50" x2="531.50" y1="133.17" y2="141.54" stroke="#a63732" stroke-width="1"/>
<rect x="530.45" y="139.29" width="2.6" height="1.86" fill="#d8443c"/>
<line x1="535.50" x2="535.50" y1="128.92" y2="157.89" stroke="#2980cc" stroke-width="1"/>
<rect x="533.83" y="142.21" width="2.6" height="1.33" fill="#2f9bf0"/>
<line x1="538.50" x2="538.50" y1="136.63" y2="142.87" stroke="#2980cc" stroke-width="1"/>
<rect x="537.20" y="140.61" width="2.6" height="1.59" fill="#2f9bf0"/>
</g>
</svg>
<!-- chart borders -->
<div class="abs" style="left:4.5px;top:418px;width:553px;height:1.3px;background:#3f4f6e"></div>
<div class="abs" style="left:557px;top:44.5px;width:1.3px;height:375px;background:#34435f"></div>
<div class="abs" style="left:4.5px;top:43.7px;width:598.5px;height:1px;background:#18213a"></div>
<div class="abs" style="left:602.4px;top:44px;width:0.9px;height:400px;background:#18213a"></div>
<!-- manual -->
<div class="abs" style="left:567px;top:60px;width:28px;height:9.5px;border-radius:5px;background:#3b4866"></div>
<div class="abs" style="left:582.5px;top:58.5px;width:12.5px;height:12.5px;border-radius:50%;background:#55648a"></div>
<div class="abs" style="left:558px;top:76.5px;width:45px;height:1px;background:#3c4b69"></div>
<!-- axis labels -->
<div class="abs" style="left:558.3px;top:100.2px;width:2.2px;height:1px;background:#7d8ba5"></div>
<div class="abs" style="left:558.3px;top:166.6px;width:2.2px;height:1px;background:#7d8ba5"></div>
<div class="abs" style="left:558.3px;top:199.8px;width:2.2px;height:1px;background:#7d8ba5"></div>
<div class="abs" style="left:558.3px;top:233.0px;width:2.2px;height:1px;background:#7d8ba5"></div>
<div class="abs" style="left:558.3px;top:266.1px;width:2.2px;height:1px;background:#7d8ba5"></div>
<div class="abs" style="left:558.3px;top:299.3px;width:2.2px;height:1px;background:#7d8ba5"></div>
<div class="abs" style="left:558.3px;top:332.5px;width:2.2px;height:1px;background:#7d8ba5"></div>
<div class="abs" style="left:558.3px;top:365.7px;width:2.2px;height:1px;background:#7d8ba5"></div>

<div class="t" style="left:562.50px;top:98px;font-size:9.4px;color:#a9b4c6;transform:scaleX(0.9895);transform-origin:0 0;font-weight:bold;">111.200</div>
<div class="t" style="left:562.50px;top:131px;font-size:9.4px;color:#a9b4c6;transform:scaleX(0.9895);transform-origin:0 0;font-weight:bold;">111.000</div>
<div class="t" style="left:562.50px;top:164px;font-size:9.4px;color:#a9b4c6;transform:scaleX(0.9742);transform-origin:0 0;font-weight:bold;">110.800</div>
<div class="t" style="left:562.50px;top:197px;font-size:9.4px;color:#a9b4c6;transform:scaleX(0.9742);transform-origin:0 0;font-weight:bold;">110.600</div>
<div class="t" style="left:562.50px;top:230px;font-size:9.4px;color:#a9b4c6;transform:scaleX(0.9742);transform-origin:0 0;font-weight:bold;">110.400</div>
<div class="t" style="left:562.50px;top:264px;font-size:9.4px;color:#a9b4c6;transform:scaleX(0.9742);transform-origin:0 0;font-weight:bold;">110.200</div>
<div class="t" style="left:562.50px;top:297px;font-size:9.4px;color:#a9b4c6;transform:scaleX(0.9742);transform-origin:0 0;font-weight:bold;">110.000</div>
<div class="t" style="left:562.50px;top:330px;font-size:9.4px;color:#a9b4c6;transform:scaleX(0.9594);transform-origin:0 0;font-weight:bold;">109.800</div>
<div class="t" style="left:562.50px;top:363px;font-size:9.4px;color:#a9b4c6;transform:scaleX(0.9594);transform-origin:0 0;font-weight:bold;">109.600</div>
<div class="t" style="left:562.50px;top:396px;font-size:9.4px;color:#a9b4c6;transform:scaleX(0.9594);transform-origin:0 0;font-weight:bold;">109.400</div>
<!-- price tags -->
<div class="abs" style="left:557.5px;top:135.9px;width:45px;height:11.8px;background:#2f9bf0"></div>
<div class="abs" style="left:557.5px;top:209.5px;width:45.5px;height:13.2px;background:#2f9bf0"></div>
<div class="abs" style="left:558px;top:390.5px;width:47px;height:10px;background:#222e47"></div>
<!-- LMT -->
<div class="abs" style="left:9px;top:204.7px;width:57.5px;height:24.8px;background:#b0125f"></div>
<div class="abs" style="left:11.6px;top:207.3px;width:52.5px;height:19.7px;background:#1f86e3"></div>
<div class="abs" style="left:13px;top:207.3px;width:2px;height:19.7px;background:#1763b4"></div>
<div class="abs" style="left:16.4px;top:207.3px;width:1.8px;height:19.7px;background:#1763b4"></div>
<div class="abs" style="left:19.4px;top:207.3px;width:0.8px;height:19.7px;background:#1763b4"></div>
<!-- tooltip -->
<div class="abs" style="left:49.5px;top:240.5px;width:55px;height:25.5px;background:#8fa3c6"></div>
<!-- time axis -->

<div class="abs" style="left:52px;top:419px;width:1px;height:3px;background:#5b6a88"></div>
<div class="abs" style="left:214px;top:419px;width:1px;height:3px;background:#5b6a88"></div>
<div class="abs" style="left:376px;top:419px;width:1px;height:3px;background:#5b6a88"></div>
<div class="abs" style="left:538px;top:419px;width:1px;height:3px;background:#5b6a88"></div>
<!-- countdown -->
<!-- scrollbar -->
<div class="abs" style="left:46.5px;top:437.5px;width:510px;height:5px;background:#2c3b58"></div>
<div class="abs" style="left:326px;top:435.5px;width:148px;height:6.5px;background:#3a4a6b;border-radius:1.5px"></div>
<div class="abs" style="left:0;top:442.5px;width:605px;height:1.5px;background:#161e2f"></div>
<div class="t" style="left:8.60px;top:7px;font-size:10.3px;color:#b4bfd3;transform:scaleX(0.9599);transform-origin:0 0;font-weight:bold;">Wykres</div>
<div class="t" style="left:47.80px;top:7px;font-size:10.3px;color:#b4bfd3;transform:scaleX(0.8519);transform-origin:0 0;font-weight:bold;">USDJPY</div>
<div class="t" style="left:87.20px;top:7px;font-size:10.3px;color:#b4bfd3;transform:scaleX(0.7942);transform-origin:0 0;font-weight:bold;">Czas</div>
<div class="t" style="left:109.90px;top:7px;font-size:10.3px;color:#b4bfd3;transform:scaleX(0.8694);transform-origin:0 0;font-weight:bold;">-</div>
<div class="t" style="left:117.60px;top:7px;font-size:10.3px;color:#b4bfd3;transform:scaleX(0.9405);transform-origin:0 0;font-weight:bold;">1H</div>
<div class="t" style="left:15.80px;top:30px;font-size:8.6px;color:#07122b;transform:scaleX(0.7903);transform-origin:0 0;">FX</div>
<div class="t" style="left:34.30px;top:30px;font-size:10.3px;color:#ffffff;transform:scaleX(0.8617);transform-origin:0 0;font-weight:bold;">USDJPY</div>
<div class="t" style="left:153.80px;top:30px;font-size:10.3px;color:#e8edf5;transform:scaleX(0.8357);transform-origin:0 0;font-weight:bold;">Czas</div>
<div class="t" style="left:177.70px;top:30px;font-size:10.3px;color:#e8edf5;transform:scaleX(1.0433);transform-origin:0 0;font-weight:bold;">-</div>
<div class="t" style="left:185.20px;top:30px;font-size:10.3px;color:#e8edf5;transform:scaleX(0.8950);transform-origin:0 0;font-weight:bold;">1H</div>
<div class="t" style="left:291.20px;top:30px;font-size:10.3px;color:#e8edf5;transform:scaleX(0.6997);transform-origin:0 0;font-weight:bold;">1</div>
<div class="t" style="left:300.00px;top:30px;font-size:10.3px;color:#e8edf5;transform:scaleX(0.9316);transform-origin:0 0;font-weight:bold;">Miesi...</div>
<div class="t" style="left:13.80px;top:48px;font-size:9.2px;color:#8c9dba;transform:scaleX(0.9474);transform-origin:0 0;font-weight:bold;">Otwarcie:</div>
<div class="t" style="left:64.10px;top:48px;font-size:9.2px;color:#8c9dba;transform:scaleX(0.9954);transform-origin:0 0;font-weight:bold;">110,040</div>
<div class="t" style="left:120.60px;top:48px;font-size:9.2px;color:#8c9dba;transform:scaleX(0.9344);transform-origin:0 0;font-weight:bold;">Max:</div>
<div class="t" style="left:150.00px;top:48px;font-size:9.2px;color:#8c9dba;transform:scaleX(0.9740);transform-origin:0 0;font-weight:bold;">110,086</div>
<div class="t" style="left:205.80px;top:48px;font-size:9.2px;color:#8c9dba;transform:scaleX(0.9679);transform-origin:0 0;font-weight:bold;">Min:</div>
<div class="t" style="left:231.70px;top:48px;font-size:9.2px;color:#8c9dba;transform:scaleX(0.9802);transform-origin:0 0;font-weight:bold;">109,996</div>
<div class="t" style="left:288.20px;top:48px;font-size:9.2px;color:#8c9dba;transform:scaleX(0.9779);transform-origin:0 0;font-weight:bold;">Zamknięcie:</div>
<div class="t" style="left:350.30px;top:48px;font-size:9.2px;color:#8c9dba;transform:scaleX(0.9954);transform-origin:0 0;font-weight:bold;">110,028</div>
<div class="t" style="left:408.00px;top:48px;font-size:9.2px;color:#8c9dba;transform:scaleX(0.8584);transform-origin:0 0;font-weight:bold;">Tik:</div>
<div class="t" style="left:430.70px;top:48px;font-size:9.2px;color:#8c9dba;transform:scaleX(0.9575);transform-origin:0 0;font-weight:bold;">1600</div>
<div class="t" style="left:479.40px;top:48px;font-size:9.2px;color:#8c9dba;transform:scaleX(0.9933);transform-origin:0 0;font-weight:bold;">Wolumen:</div>
<div class="t" style="left:531.40px;top:48px;font-size:9.2px;color:#8c9dba;transform:scaleX(0.9783);transform-origin:0 0;font-weight:bold;">---</div>
<div class="t" style="left:564.50px;top:46px;font-size:9.4px;color:#aab6ca;transform:scaleX(0.9727);transform-origin:0 0;font-weight:bold;">Manual</div>
<div class="t" style="left:564.60px;top:138px;font-size:9.6px;color:#0b1c3c;transform:scaleX(0.9451);transform-origin:0 0;font-weight:bold;">110,955</div>
<div class="t" style="left:564.70px;top:213px;font-size:9.6px;color:#0b1c3c;transform:scaleX(0.9393);transform-origin:0 0;font-weight:bold;">110,500</div>
<div class="t" style="left:562.80px;top:392px;font-size:9.7px;color:#ffffff;transform:scaleX(0.9343);transform-origin:0 0;font-weight:bold;">1 078,00</div>
<div class="t" style="left:41.80px;top:214px;font-size:10.6px;color:#ffffff;transform:scaleX(0.8080);transform-origin:0 0;font-weight:bold;">LMT</div>
<div class="t" style="left:57.90px;top:250px;font-size:9.9px;color:#1b2840;transform:scaleX(0.9139);transform-origin:0 0;">Zlecenie</div>
<div class="t" style="left:65.00px;top:424px;font-size:9.4px;color:#9ba9c1;transform:scaleX(0.9671);transform-origin:0 0;font-weight:bold;">16.06.2021</div>
<div class="t" style="left:227.00px;top:424px;font-size:9.4px;color:#9ba9c1;transform:scaleX(0.9671);transform-origin:0 0;font-weight:bold;">18.06.2021</div>
<div class="t" style="left:389.00px;top:424px;font-size:9.4px;color:#9ba9c1;transform:scaleX(0.9671);transform-origin:0 0;font-weight:bold;">22.06.2021</div>
<div class="abs" style="left:500px;top:420px;width:57px;height:16px;overflow:hidden"><div class="t" style="left:51.00px;top:4px;font-size:9.4px;color:#9ba9c1;transform:scaleX(0.9671);transform-origin:0 0;font-weight:bold;">24.06.2021</div></div>
<div class="t" style="left:506.70px;top:406px;font-size:11px;color:#d6dde9;transform:scaleX(0.9411);transform-origin:0 0;font-weight:bold;">40:16</div>
<svg width="605" height="444" viewBox="0 0 605 444" style="position:absolute;left:0;top:0" fill="none" stroke-linecap="butt">
<!-- compare zigzag -->
<g stroke="#d3dae8" stroke-width="1.2" stroke-linejoin="miter">
<polyline points="94.3,29.9 97.6,33 100.6,30 102.6,30.8 105.6,27.9"/>
<polyline points="94.3,34 97.6,37.2 100.6,34.1 102.6,34.8 105.6,32"/>
</g>
<!-- candle type icon -->
<g stroke="#e6eaf2" stroke-width="1">
<line x1="248.9" x2="248.9" y1="29.9" y2="38.4"/>
<line x1="253.7" x2="253.7" y1="27" y2="38.7"/>
<line x1="257.8" x2="257.8" y1="28.2" y2="36.4"/>
</g>
<g fill="#e6eaf2" stroke="none">
<rect x="247.8" y="31.4" width="2.2" height="6"/>
<rect x="252.6" y="29.9" width="2.2" height="7"/>
<rect x="256.7" y="30.9" width="2.2" height="3.5"/>
</g>
<!-- chevrons -->
<g stroke="#e6eaf2" stroke-width="1.4">
<polyline points="266.3,30.7 270.4,34.8 274.5,30.7"/>
<polyline points="334.9,30.7 338.9,34.8 342.9,30.7"/>
</g>
<!-- pencil -->
<g stroke="none" fill="#eef1f6">
<polygon points="353.2,39.6 354.3,36.4 362.6,28.4 365.0,30.8 356.6,38.9"/>
<polygon points="363.5,27.5 364.9,26.2 367.3,28.6 365.9,29.9"/>
</g>
<!-- indicator icon -->
<g stroke="#dfe4ee" stroke-width="1.2" stroke-linejoin="miter">
<polyline points="375.4,34 377.6,34 381.4,39 381.7,27.3 388.8,27.3 388.8,30.4"/>
<line x1="385.8" x2="385.8" y1="29.2" y2="39.6" stroke-width="1" stroke="#aeb8cc"/>
</g>
<rect x="384.9" y="31.2" width="1.9" height="5.5" fill="#ffffff"/>
<!-- magnifier -->
<g stroke="#dde2ec" stroke-width="1.3">
<circle cx="401.8" cy="30.7" r="4"/>
<line x1="404.7" y1="33.7" x2="410.5" y2="39.4" stroke-width="1.5"/>
</g>
<!-- table icon -->
<rect x="419.2" y="26" width="13.9" height="13" fill="#1a2744"/>
<rect x="419.2" y="26" width="13.9" height="2.9" fill="#e6eaf2"/>
<rect x="419.2" y="26" width="1.2" height="13" fill="#e6eaf2"/>
<rect x="431.9" y="26" width="1.2" height="13" fill="#e6eaf2"/>
<rect x="419.2" y="38" width="3" height="1" fill="#e6eaf2"/>
<rect x="430.1" y="38" width="3" height="1" fill="#e6eaf2"/>
<g stroke="#e6eaf2" stroke-width="1">
<line x1="424.9" x2="424.9" y1="30.1" y2="39.3"/>
<line x1="429.1" x2="429.1" y1="31.2" y2="38.5"/>
</g>
<rect x="424" y="31.2" width="1.8" height="6.4" fill="#fff"/>
<rect x="428.2" y="32.1" width="1.8" height="4.9" fill="#fff"/>
<!-- link -->
<g stroke="#d5dbe7" stroke-width="1.05">
<rect x="507.3" y="8.7" width="6" height="4" rx="2"/>
<rect x="511.3" y="8.7" width="6" height="4" rx="2"/>
</g>
<!-- dropdown list -->
<polygon points="528.3,9.3 534.1,9.3 531.2,12.8" fill="#fff"/>
<g stroke="#dde2ec" stroke-width="1">
<line x1="533.5" x2="539.5" y1="7" y2="7"/>
<line x1="534.5" x2="539.5" y1="8.9" y2="8.9"/>
<line x1="534.5" x2="539.5" y1="10.7" y2="10.7"/>
<line x1="534.5" x2="539.5" y1="12.4" y2="12.4"/>
<line x1="533.5" x2="539.5" y1="14.1" y2="14.1"/>
<line x1="539" x2="539" y1="6.5" y2="14.6"/>
</g>
<!-- min / max / close -->
<rect x="551.2" y="11.8" width="7.6" height="2.1" fill="#f2f4f8"/>
<rect x="572.6" y="8" width="6.8" height="5.4" stroke="#f2f4f8" stroke-width="1.2"/>
<rect x="572" y="6.9" width="8" height="2" fill="#f2f4f8"/>
<g stroke="#e8ecf3" stroke-width="1.3">
<line x1="593.3" y1="7" x2="600.9" y2="14.2"/>
<line x1="600.9" y1="7" x2="593.3" y2="14.2"/>
</g>
<!-- mouse -->
<g stroke="#c9d1df" stroke-width="1.2">
<rect x="564.3" y="27" width="8" height="11.9" rx="2"/>
<line x1="564.3" x2="572.3" y1="31.3" y2="31.3"/>
<line x1="568.3" x2="568.3" y1="27" y2="31.3"/>
</g>
<!-- cart plus -->
<polygon points="586.2,30.4 596.8,30.4 595.3,35.8 588,35.8" fill="#16223e"/>
<g stroke="#d5dbe7" stroke-width="1.2" stroke-linejoin="round">
<polyline points="584.4,28.6 586,29.4 588,35.8 595.3,35.8 596.9,30.3"/>
<line x1="586.3" x2="588.3" y1="30.4" y2="30.4"/>
<line x1="594.6" x2="596.9" y1="30.4" y2="30.4"/>
</g>
<circle cx="589" cy="38.6" r="1.05" fill="#d5dbe7"/>
<circle cx="593.9" cy="38.6" r="1.05" fill="#d5dbe7"/>
<g stroke="#fff" stroke-width="1.6">
<line x1="591.4" x2="591.4" y1="27.3" y2="33.7"/>
<line x1="588.3" x2="594.6" y1="30.4" y2="30.4"/>
</g>
<!-- LMT cart -->
<g stroke="#fff" stroke-width="1.35" stroke-linejoin="round">
<polyline points="21.3,211.6 23.4,212.8 25.4,219.2 32.2,219.2 33.6,213.9"/>
<line x1="23.8" x2="33.6" y1="214" y2="214"/>
<polyline points="27,214.5 28.7,217 30.4,214.5"/>
<line x1="28.7" x2="28.7" y1="212.3" y2="216.6"/>
</g>
<circle cx="26.4" cy="221.6" r="1.15" fill="#fff"/>
<circle cx="31" cy="221.6" r="1.15" fill="#fff"/>
<!-- countdown arrow -->
<rect x="543" y="409.6" width="6" height="1.9" fill="#fff"/>
<polygon points="547.3,406.9 552.2,410.55 547.3,414.2" fill="#fff"/>
<rect x="553.3" y="405.3" width="1.3" height="10.7" fill="#e8ecf3"/>
<!-- zoom -/+ -->
<g stroke="#fff" stroke-width="1.6">
<line x1="566.5" x2="577" y1="433" y2="433"/>
<line x1="588" x2="598.5" y1="433" y2="433"/>
<line x1="593.2" x2="593.2" y1="427.7" y2="438.3"/>
</g>
<polygon points="600.5,422.5 602.5,422.5 602.5,425" fill="#fff"/>
</svg>

</body></html>
